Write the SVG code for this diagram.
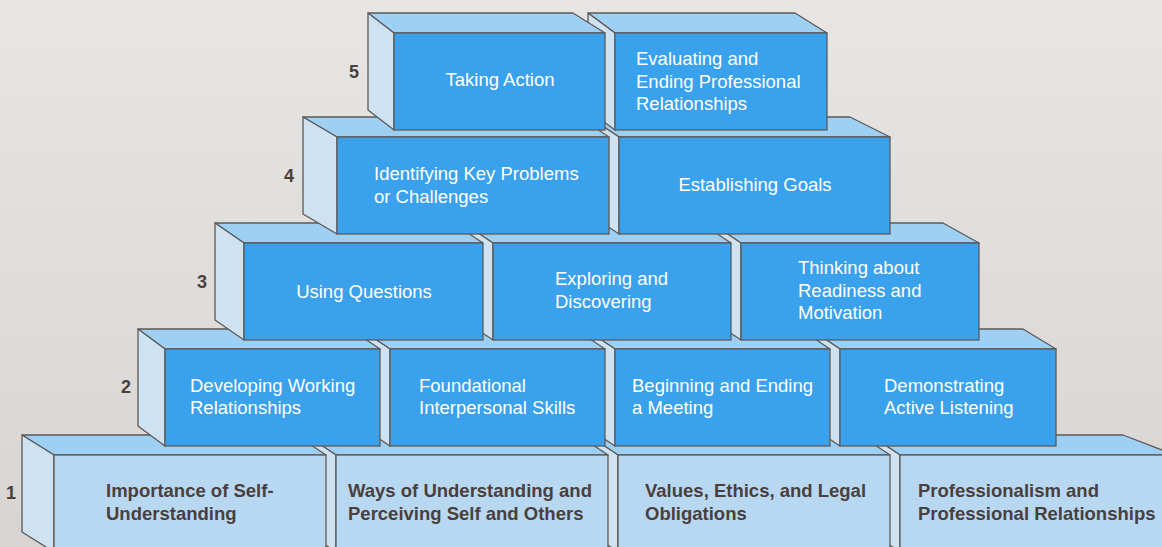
<svg xmlns="http://www.w3.org/2000/svg" width="1162" height="547" viewBox="0 0 1162 547">
  <defs>
    <linearGradient id="bg" x1="0" y1="0" x2="0" y2="1">
      <stop offset="0" stop-color="#e7e6e4"/>
      <stop offset="1" stop-color="#d8d4d1"/>
    </linearGradient>
    <style>
      .top{fill:#9dd0f2;stroke:#5e5957;stroke-width:1.3;stroke-linejoin:round}
      .side{fill:#cfe2f1;stroke:#5e5957;stroke-width:1.3;stroke-linejoin:round}
      .front{fill:#3aa1ec;stroke:#5e5957;stroke-width:1.3}
      .base{fill:#b8d8f1;stroke:#5e5957;stroke-width:1.3}
      text{font-family:"Liberation Sans",Arial,Helvetica,sans-serif;font-size:18.5px}
      .lt{fill:#ffffff}
      .dk{fill:#4a3f3c;font-weight:bold}
      .num{fill:#4a403c;font-weight:bold;text-anchor:middle;font-size:18px}
      .mid{text-anchor:middle}
    </style>
  </defs>

  <rect width="1162" height="547" fill="url(#bg)"/>

  <!-- level numbers -->
  <g id="levels">
    <text class="num" x="11" y="499">1</text>
    <text class="num" x="126" y="393">2</text>
    <text class="num" x="202" y="288">3</text>
    <text class="num" x="289" y="182">4</text>
    <text class="num" x="354" y="78">5</text>
  </g>

  <!-- level 1 (drawn right to left) -->
  <g id="professionalism">
    <polygon class="top" points="870,435 1123,435 1175,455 900,455"/>
    <polygon class="side" points="870,435 900,455 900,552 870,532"/>
    <rect class="base" x="900" y="455" width="275" height="97"/>
    <text class="dk" x="918" y="497">Professionalism and</text>
    <text class="dk" x="918" y="520">Professional Relationships</text>
  </g>
  <g id="values-ethics">
    <polygon class="top" points="588,435 860,435 890,455 618,455"/>
    <polygon class="side" points="588,435 618,455 618,552 588,532"/>
    <rect class="base" x="618" y="455" width="272" height="97"/>
    <text class="dk" x="645" y="497">Values, Ethics, and Legal</text>
    <text class="dk" x="645" y="520">Obligations</text>
  </g>
  <g id="ways-of-understanding">
    <polygon class="top" points="306,435 578,435 608,455 336,455"/>
    <polygon class="side" points="306,435 336,455 336,552 306,532"/>
    <rect class="base" x="336" y="455" width="272" height="97"/>
    <text class="dk" x="348" y="497">Ways of Understanding and</text>
    <text class="dk" x="348" y="520">Perceiving Self and Others</text>
  </g>
  <g id="self-understanding">
    <polygon class="top" points="22,435 296,435 326,455 54,455"/>
    <polygon class="side" points="22,435 54,455 54,552 22,532"/>
    <rect class="base" x="54" y="455" width="272" height="97"/>
    <text class="dk" x="106" y="497">Importance of Self-</text>
    <text class="dk" x="106" y="520">Understanding</text>
  </g>

  <!-- level 2 -->
  <g id="active-listening">
    <polygon class="top" points="810,329 1023,329 1056,349 840,349"/>
    <polygon class="side" points="810,329 840,349 840,446 810,426"/>
    <rect class="front" x="840" y="349" width="216" height="97"/>
    <text class="lt" x="884" y="392">Demonstrating</text>
    <text class="lt" x="884" y="414">Active Listening</text>
  </g>
  <g id="beginning-ending">
    <polygon class="top" points="585,329 800,329 830,349 615,349"/>
    <polygon class="side" points="585,329 615,349 615,446 585,426"/>
    <rect class="front" x="615" y="349" width="215" height="97"/>
    <text class="lt" x="632" y="392">Beginning and Ending</text>
    <text class="lt" x="632" y="414">a Meeting</text>
  </g>
  <g id="foundational-skills">
    <polygon class="top" points="360,329 575,329 605,349 390,349"/>
    <polygon class="side" points="360,329 390,349 390,446 360,426"/>
    <rect class="front" x="390" y="349" width="215" height="97"/>
    <text class="lt" x="419" y="392">Foundational</text>
    <text class="lt" x="419" y="414">Interpersonal Skills</text>
  </g>
  <g id="working-relationships">
    <polygon class="top" points="138,329 350,329 380,349 165,349"/>
    <polygon class="side" points="138,329 165,349 165,446 138,426"/>
    <rect class="front" x="165" y="349" width="215" height="97"/>
    <text class="lt" x="190" y="392">Developing Working</text>
    <text class="lt" x="190" y="414">Relationships</text>
  </g>

  <!-- level 3 -->
  <g id="readiness-motivation">
    <polygon class="top" points="711,223 943,223 979,243 741,243"/>
    <polygon class="side" points="711,223 741,243 741,340 711,320"/>
    <rect class="front" x="741" y="243" width="238" height="97"/>
    <text class="lt" x="798" y="274">Thinking about</text>
    <text class="lt" x="798" y="297">Readiness and</text>
    <text class="lt" x="798" y="319">Motivation</text>
  </g>
  <g id="exploring-discovering">
    <polygon class="top" points="463,223 701,223 731,243 493,243"/>
    <polygon class="side" points="463,223 493,243 493,340 463,320"/>
    <rect class="front" x="493" y="243" width="238" height="97"/>
    <text class="lt" x="555" y="285">Exploring and</text>
    <text class="lt" x="555" y="308">Discovering</text>
  </g>
  <g id="using-questions">
    <polygon class="top" points="215,223 453,223 483,243 244,243"/>
    <polygon class="side" points="215,223 244,243 244,340 215,320"/>
    <rect class="front" x="244" y="243" width="239" height="97"/>
    <text class="lt mid" x="364" y="298">Using Questions</text>
  </g>

  <!-- level 4 -->
  <g id="establishing-goals">
    <polygon class="top" points="589,117 850,117 890,137 619,137"/>
    <polygon class="side" points="589,117 619,137 619,234 589,214"/>
    <rect class="front" x="619" y="137" width="271" height="97"/>
    <text class="lt mid" x="755" y="191">Establishing Goals</text>
  </g>
  <g id="key-problems">
    <polygon class="top" points="303,117 579,117 609,137 337,137"/>
    <polygon class="side" points="303,117 337,137 337,234 303,214"/>
    <rect class="front" x="337" y="137" width="272" height="97"/>
    <text class="lt" x="374" y="180">Identifying Key Problems</text>
    <text class="lt" x="374" y="203">or Challenges</text>
  </g>

  <!-- level 5 -->
  <g id="evaluating-ending">
    <polygon class="top" points="588,13 795,13 827,33 615,33"/>
    <polygon class="side" points="588,13 615,33 615,130 588,110"/>
    <rect class="front" x="615" y="33" width="212" height="97"/>
    <text class="lt" x="636" y="65">Evaluating and</text>
    <text class="lt" x="636" y="87.5">Ending Professional</text>
    <text class="lt" x="636" y="110">Relationships</text>
  </g>
  <g id="taking-action">
    <polygon class="top" points="368,13 573,13 605,33 394,33"/>
    <polygon class="side" points="368,13 394,33 394,130 368,110"/>
    <rect class="front" x="394" y="33" width="211" height="97"/>
    <text class="lt mid" x="500" y="86">Taking Action</text>
  </g>
</svg>
